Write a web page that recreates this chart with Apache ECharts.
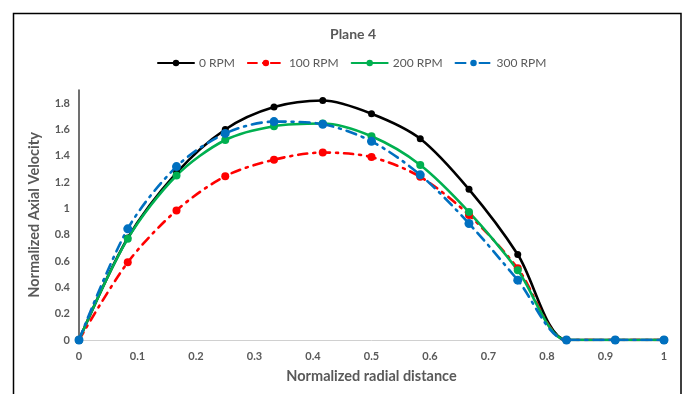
<!DOCTYPE html>
<html>
<head>
<meta charset="utf-8">
<script src="https://cdn.jsdelivr.net/npm/echarts@6/dist/echarts.min.js"></script>
<style>html,body{margin:0;padding:0;background:#fff}#c{width:688px;height:394px}</style>
</head>
<body>
<div id="c"></div>
<script>
var xValues = [0, 1/12, 2/12, 3/12, 4/12, 5/12, 6/12, 7/12, 8/12, 9/12, 10/12, 11/12, 1];
var rpm0   = [0, 0.775, 1.27, 1.60, 1.77, 1.82, 1.72, 1.53, 1.145, 0.65, 0, 0, 0];
var rpm100 = [0, 0.59, 0.985, 1.245, 1.37, 1.425, 1.39, 1.24, 0.95, 0.545, 0, 0, 0];
var rpm200 = [0, 0.77, 1.25, 1.52, 1.625, 1.645, 1.548, 1.33, 0.972, 0.53, 0, 0, 0];
var rpm300 = [0, 0.845, 1.318, 1.57, 1.66, 1.64, 1.51, 1.255, 0.885, 0.455, 0, 0, 0];
var seriesNames = ['0 RPM', '100 RPM', '200 RPM', '300 RPM'];
var xTicks = [0, 0.1, 0.2, 0.3, 0.4, 0.5, 0.6, 0.7, 0.8, 0.9, 1];

function pairs(ys) { return xValues.map(function (x, i) { return [x, ys[i]]; }); }

var font = 'Lato, "Open Sans", sans-serif';
var gray = '#595959';
var chart = echarts.init(document.getElementById('c'));
function mk(name, data, color, dash, size) {
  return {
    name: name, type: 'line', data: pairs(data), smooth: 0.3,
    symbol: 'circle', symbolSize: size,
    itemStyle: { color: color },
    lineStyle: { color: color, width: 2.6, type: dash, cap: 'round' },
    z: 2
  };
}
chart.setOption({
  animation: false,
  textStyle: { fontFamily: font },
  graphic: [{
    type: 'rect', shape: { x: 13.5, y: 13.5, width: 667.5, height: 400 },
    style: { fill: 'none', stroke: '#000', lineWidth: 1.5 }, silent: true, z: -1
  }],
  title: {
    text: 'Plane 4', left: 325, top: 22,
    textStyle: { fontFamily: font, fontSize: 14, fontWeight: 'bold', color: gray }
  },
  legend: {
    top: 52, left: 152, itemWidth: 36, itemHeight: 8, itemGap: 12,
    data: seriesNames,
    textStyle: { fontFamily: font, fontSize: 12, color: gray }
  },
  grid: { left: 79, right: 24, top: 90, bottom: 54, containLabel: false },
  xAxis: {
    type: 'value', min: 0, max: 1, interval: 0.1,
    name: 'Normalized radial distance', nameLocation: 'middle', nameGap: 29,
    nameTextStyle: { fontFamily: font, fontSize: 14.5, fontWeight: 'bold', color: gray },
    axisLine: { lineStyle: { color: '#d0d0d0', width: 1 } },
    axisTick: { show: false }, splitLine: { show: false },
    axisLabel: { color: gray, fontSize: 11, fontWeight: 'bold', margin: 11,
      formatter: function (v) { return String(Math.round(v * 10) / 10); } }
  },
  yAxis: {
    type: 'value', min: 0, max: 1.9, interval: 0.2,
    name: 'Normalized Axial Velocity', nameLocation: 'middle', nameGap: 37,
    nameTextStyle: { fontFamily: font, fontSize: 14.5, fontWeight: 'bold', color: gray },
    axisLine: { show: true, lineStyle: { color: '#404040', width: 1.5 } },
    axisTick: { show: false }, splitLine: { show: false },
    axisLabel: { color: gray, fontSize: 11, fontWeight: 'bold', margin: 9, showMaxLabel: false,
      formatter: function (v) { return String(Math.round(v * 10) / 10); } }
  },
  series: [
    mk(seriesNames[0], rpm0, '#000000', 'solid', 7),
    mk(seriesNames[1], rpm100, '#ff0000', [9, 6, 2, 6], 8),
    mk(seriesNames[2], rpm200, '#00b050', 'solid', 8),
    mk(seriesNames[3], rpm300, '#0070c0', [10, 6, 2, 6], 9)
  ]
});
</script>
</body>
</html>
